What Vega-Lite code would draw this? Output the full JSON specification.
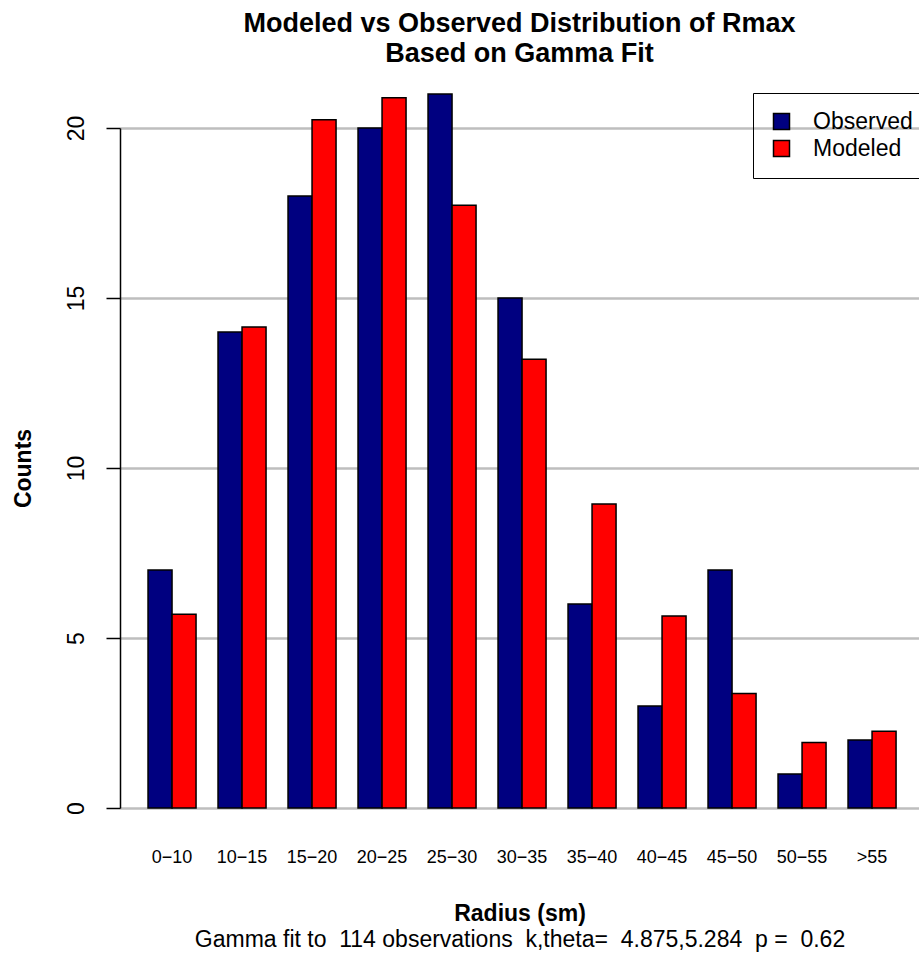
{
  "$schema": "https://vega.github.io/schema/vega-lite/v6.json",
  "width": 799,
  "height": 680,
  "autosize": {"type": "none"},
  "padding": {"left": 120, "top": 128, "right": 0, "bottom": 147},
  "background": "white",
  "config": {"view": {"stroke": null}, "font": "Liberation Sans"},
  "title": {
    "text": ["Modeled vs Observed Distribution of Rmax", "Based on Gamma Fit"],
    "fontSize": 27,
    "fontWeight": "bold",
    "anchor": "middle",
    "frame": "group",
    "offset": 25,
    "lineHeight": 30,
    "color": "black"
  },
  "data": {
    "values": [
      {"bin": "0−10", "series": "Observed", "value": 7},
      {"bin": "10−15", "series": "Observed", "value": 14},
      {"bin": "15−20", "series": "Observed", "value": 18},
      {"bin": "20−25", "series": "Observed", "value": 20},
      {"bin": "25−30", "series": "Observed", "value": 21},
      {"bin": "30−35", "series": "Observed", "value": 15},
      {"bin": "35−40", "series": "Observed", "value": 6},
      {"bin": "40−45", "series": "Observed", "value": 3},
      {"bin": "45−50", "series": "Observed", "value": 7},
      {"bin": "50−55", "series": "Observed", "value": 1},
      {"bin": ">55", "series": "Observed", "value": 2},
      {"bin": "0−10", "series": "Modeled", "value": 5.7},
      {"bin": "10−15", "series": "Modeled", "value": 14.15},
      {"bin": "15−20", "series": "Modeled", "value": 20.24},
      {"bin": "20−25", "series": "Modeled", "value": 20.89},
      {"bin": "25−30", "series": "Modeled", "value": 17.73},
      {"bin": "30−35", "series": "Modeled", "value": 13.2},
      {"bin": "35−40", "series": "Modeled", "value": 8.94},
      {"bin": "40−45", "series": "Modeled", "value": 5.65},
      {"bin": "45−50", "series": "Modeled", "value": 3.37},
      {"bin": "50−55", "series": "Modeled", "value": 1.93},
      {"bin": ">55", "series": "Modeled", "value": 2.26}
    ]
  },
  "layer": [
    {
      "mark": {"type": "bar", "stroke": "black", "strokeWidth": 1.5},
      "encoding": {
        "x": {
          "field": "bin",
          "type": "nominal",
          "scale": {
            "domain": ["0−10", "10−15", "15−20", "20−25", "25−30", "30−35", "35−40", "40−45", "45−50", "50−55", ">55"],
            "paddingInner": 0.314,
            "paddingOuter": 0.364,
            "align": 0.55
          },
          "axis": {
            "orient": "bottom",
            "title": "Radius (sm)",
            "titleFontSize": 23,
            "titleFontWeight": "bold",
            "titleColor": "black",
            "titlePadding": 36,
            "labelFontSize": 18,
            "labelAngle": 0,
            "labelPadding": 40,
            "labelColor": "black",
            "ticks": false,
            "tickSize": 0,
            "domain": false,
            "grid": false
          }
        },
        "xOffset": {
          "field": "series",
          "type": "nominal",
          "scale": {"domain": ["Observed", "Modeled"], "paddingInner": 0, "paddingOuter": 0}
        },
        "y": {
          "field": "value",
          "type": "quantitative",
          "scale": {"domain": [0, 20], "nice": false},
          "axis": {
            "values": [0, 5, 10, 15, 20],
            "title": "Counts",
            "titleFontSize": 23,
            "titleFontWeight": "bold",
            "titleColor": "black",
            "titlePadding": 30,
            "labelFontSize": 23,
            "labelAngle": -90,
            "labelAlign": "center",
            "labelBaseline": "bottom",
            "labelPadding": 18,
            "labelColor": "black",
            "labelFlush": false,
            "labelOverlap": false,
            "tickSize": 14,
            "tickColor": "black",
            "tickWidth": 1.5,
            "domainColor": "black",
            "domainWidth": 1.5,
            "grid": true,
            "gridColor": "#bebebe",
            "gridWidth": 2.5
          }
        },
        "color": {
          "field": "series",
          "type": "nominal",
          "scale": {"domain": ["Observed", "Modeled"], "range": ["#000080", "#ff0000"]},
          "legend": {
            "title": null,
            "orient": "none",
            "legendX": 633,
            "legendY": -35,
            "padding": 17,
            "strokeColor": "black",
            "symbolType": "square",
            "symbolSize": 256,
            "symbolStrokeColor": "black",
            "symbolStrokeWidth": 1.5,
            "symbolOpacity": 1,
            "labelFontSize": 23,
            "labelOffset": 20,
            "rowPadding": 3,
            "labelColor": "black"
          }
        }
      }
    },
    {
      "mark": {"type": "bar", "opacity": 0},
      "encoding": {
        "x": {
          "field": "bin",
          "type": "nominal",
          "axis": {
            "orient": "bottom",
            "title": "Gamma fit to \u00a0114 observations \u00a0k,theta= \u00a04.875,5.284 \u00a0p = \u00a00.62",
            "titleFontSize": 23,
            "titleFontWeight": "normal",
            "titleColor": "black",
            "titlePadding": 120,
            "labels": false,
            "ticks": false,
            "tickSize": 0,
            "domain": false,
            "grid": false
          }
        }
      }
    }
  ],
  "resolve": {"axis": {"x": "independent"}}
}
